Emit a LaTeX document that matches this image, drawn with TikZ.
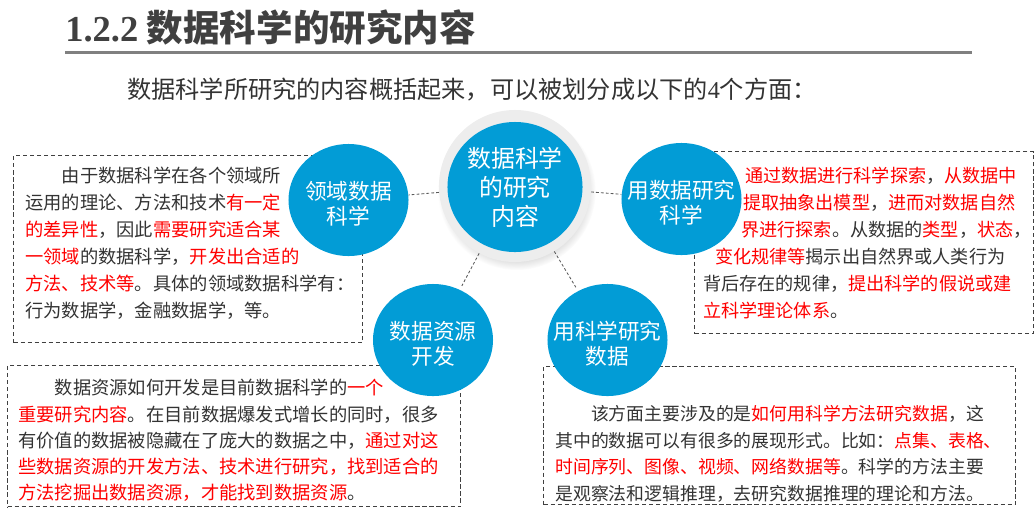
\documentclass[tikz,border=0pt]{standalone}
\usepackage{fontspec}
\setmainfont{Noto Sans CJK SC}
\newfontfamily\latinserif{Liberation Serif}
\usetikzlibrary{shapes.geometric,shadows}
\definecolor{topicblue}{RGB}{2,156,214}
\definecolor{inkgray}{RGB}{51,51,51}
\definecolor{titlegray}{RGB}{64,64,64}
\definecolor{hired}{RGB}{255,0,0}
\newcommand\hi[1]{\textcolor{hired}{#1}}
\tikzset{
  topic/.style={ellipse, fill=topicblue, inner sep=0pt, minimum width=3cm, minimum height=2.8cm},
  topiclabel/.style={text=white, inner sep=0pt, align=center, font=\fontsize{15.4pt}{17.8pt}\selectfont},
  notebox/.style={draw=black!75, line width=0.8pt, dash pattern=on 3pt off 2pt, anchor=north west, inner sep=0pt},
  note/.style={anchor=north west, inner sep=0pt, align=left, text=inkgray},
  link/.style={draw=black!65, line width=0.6pt, dash pattern=on 2pt off 1.5pt}
}
\begin{document}
\begin{tikzpicture}[x=0.025cm, y=-0.025cm]
\useasboundingbox (0,0) rectangle (1034,522);
\node[anchor=west, inner sep=0pt, text=titlegray, font=\fontsize{26pt}{30pt}\selectfont\bfseries] (title) at (65,27.5) {{\latinserif 1.2.2} 数据科学的研究内容};
\draw[line width=1.5pt, black!50] (65,52.5) -- (972,52.5);
\node[anchor=west, inner sep=0pt, text=inkgray, font=\fontsize{17.2pt}{20pt}\selectfont] (intro) at (127,90) {数据科学所研究的内容概括起来，可以被划分成以下的{\latinserif 4}个方面：};

\node[notebox, minimum width=8.725cm, minimum height=4.675cm] (domainbox) at (13,155) {};
\node[notebox, minimum width=8.475cm, minimum height=4.55cm] (explorebox) at (694,151) {};
\node[notebox, minimum width=11.325cm, minimum height=3.525cm] (resourcebox) at (7,365) {};
\node[notebox, minimum width=11.8cm, minimum height=3.45cm] (studybox) at (543,366) {};

\node[note, font=\fontsize{13pt}{19.2pt}\selectfont] (domaintext) at (25,167) {\hspace*{2em}由于数据科学在各个领域所\\
运用的理论、方法和技术\hi{有一定}\\
\hi{的差异性}，因此\hi{需要研究适合某}\\
\hi{一领域}的数据科学，\hi{开发出合适的}\\
\hi{方法、技术等}。具体的领域数据科学有：\\
行为数据学，金融数据学，等。};
\node[note, font=\fontsize{12.9pt}{19.2pt}\selectfont] (exploretext) at (703,167) {\hspace*{2.3em}\hi{通过数据进行科学探索}，\hi{从数据中}\\
\hspace*{2.2em}\hi{提取抽象出模型}，\hi{进而对数据自然}\\
\hspace*{2.1em}\hi{界进行探索}。从数据的\hi{类型}，\hi{状态}，\\
\hspace*{0.65em}\hi{变化规律等}揭示出自然界或人类行为\\
背后存在的规律，\hi{提出科学的假说或建}\\
\hi{立科学理论体系}。};
\node[note, font=\fontsize{13pt}{18.7pt}\selectfont] (resourcetext) at (18,379) {\hspace*{2em}数据资源如何开发是目前数据科学的\hi{一个}\\
\hi{重要研究内容}。在目前数据爆发式增长的同时，很多\\
有价值的数据被隐藏在了庞大的数据之中，\hi{通过对这}\\
\hi{些数据资源的开发方法、技术进行研究，找到适合的}\\
\hi{方法挖掘出数据资源，才能找到数据资源}。};
\node[note, font=\fontsize{12.7pt}{19pt}\selectfont] (studytext) at (555,405) {\hspace*{2em}该方面主要涉及的是\hi{如何用科学方法研究数据}，这\\
其中的数据可以有很多的展现形式。比如：\hi{点集、表格、}\\
\hi{时间序列、图像、视频、网络数据等}。科学的方法主要\\
是观察法和逻辑推理，去研究数据推理的理论和方法。};

\node[circle, fill=black!7, minimum size=3.8cm, inner sep=0pt, circular drop shadow={shadow xshift=0.04cm, shadow yshift=-0.12cm, shadow scale=1.04, opacity=0.3}] (hubring) at (515,186) {};
\node[topic, minimum width=3.375cm, minimum height=3.25cm] (hub) at (515,187) {};
\node[topiclabel, font=\fontsize{17pt}{20.6pt}\selectfont] (hublabel) at (hub) {数据科学\\的研究\\内容};
\node[topic] (domain) at (348.5,200) {};
\node[topiclabel] (domainlabel) at ([yshift=-2.5]domain) {领域数据\\科学};
\node[topic] (explore) at (681.5,199) {};
\node[topiclabel] (explorelabel) at ([yshift=-2.5]explore) {用数据研究\\科学};
\node[topic] (resource) at (433,340) {};
\node[topiclabel] (resourcelabel) at ([yshift=-2.5]resource) {数据资源\\开发};
\node[topic] (study) at (607.5,340) {};
\node[topiclabel] (studylabel) at ([yshift=-2.5]study) {用科学研究\\数据};

\draw[link] (hubring) -- (domain);
\draw[link] (hubring) -- (explore);
\draw[link, shorten >=3pt] (hubring) -- (resource);
\draw[link, shorten >=3pt] (hubring) -- (study);
\end{tikzpicture}
\end{document}
